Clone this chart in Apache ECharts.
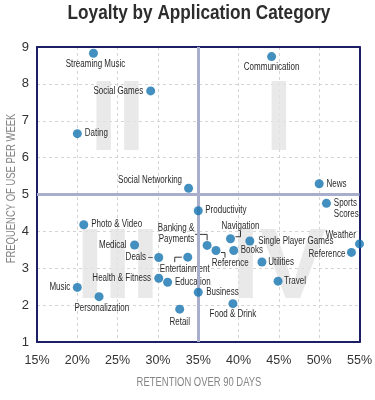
<!DOCTYPE html>
<html>
<head>
<meta charset="utf-8">
<script src="https://cdn.jsdelivr.net/npm/echarts@6/dist/echarts.min.js"></script>
<style>
html,body{margin:0;padding:0;background:#fff;}
#chart{width:375px;height:400px;}
</style>
</head>
<body>
<div id="chart"></div>
<script>
// ---- data ----
const categories = [
  'Streaming Music','Social Games','Dating','Social Networking','Communication',
  'News','Sports\nScores','Productivity','Photo & Video','Weather',
  'Reference','Navigation','Single Player Games','Banking &\nPayments','Medical',
  'Books','Reference','Deals –','Entertainment','Utilities',
  'Health & Fitness','Education','Travel','Music','Business',
  'Personalization','Food & Drink','Retail'
];
const retention = [
  22.0, 29.1, 20.0, 33.8, 44.1,
  50.0, 50.9, 35.0, 20.8, 55.0,
  54.0, 39.0, 41.4, 36.1, 27.1,
  39.4, 37.2, 30.1, 33.7, 42.9,
  30.1, 31.2, 44.9, 20.0, 35.0,
  22.7, 39.3, 32.7
];
const frequency = [
  8.83, 7.81, 6.65, 5.17, 8.74,
  5.29, 4.76, 4.56, 4.18, 3.66,
  3.43, 3.80, 3.74, 3.62, 3.63,
  3.48, 3.48, 3.29, 3.30, 3.17,
  2.73, 2.62, 2.65, 2.48, 2.35,
  2.23, 2.04, 1.89
];
const xTicks = [15, 20, 25, 30, 35, 40, 45, 50, 55];
const yTicks = [1, 2, 3, 4, 5, 6, 7, 8, 9];
const quadrantNames = ['I', 'II', 'III', 'IV'];
const quadrantX = [45, 25, 25, 45];
const quadrantY = [7, 7, 3, 3];
const splitRetention = 35;
const splitFrequency = 5;
const titleText = 'Loyalty by Application Category';
const xName = 'RETENTION OVER 90 DAYS';
const yName = 'FREQUENCY OF USE PER WEEK';

// ---- label placement (style only): [dx, dy, align] in pixels from the point ----
const labelStyle = [
  [2, 11, 'center'], [-7.5, 0, 'right'], [7.5, 0, 'left'], [-6.5, -8.3, 'right'], [0, 11, 'center'],
  [7.3, 0, 'left'], [7.4, 5.5, 'left'], [7, 0, 'left'], [7.4, 0, 'left'], [-3.7, -9, 'right'],
  [-6, 2.3, 'right'], [10, -13, 'center'], [8.4, 0, 'left'], [-12.8, -11.2, 'right'], [-8, 0, 'right'],
  [7, 0, 'left'], [14.3, 12.3, 'center'], [-6, 0, 'right'], [-3, 11.7, 'center'], [6.3, 0, 'left'],
  [-7.7, 0, 'right'], [7.4, 0, 'left'], [6, 0, 'left'], [-7, 0, 'right'], [8, 0, 'left'],
  [2.7, 11.3, 'center'], [0, 11, 'center'], [0, 12.7, 'center']
];
// leader lines (pixel offsets from point), by category index
const leaders = {
  13: [[-12,-11],[0,-11],[0,-5]],
  11: [[10,-8],[10,-2],[5,-2]],
  16: [[5,2],[9,2],[9,7]],
  18: [[-6,0],[-13,0],[-13,5]]
};

const SANS = '"Liberation Sans", Arial, sans-serif';
const DOT = '#1474b0';
const LABEL_SCALE = 0.8;

const pointData = categories.map((c, i) => ({name: c, value: [retention[i], frequency[i]]}));
const leaderData = Object.keys(leaders).map(k => ({value:[retention[+k], frequency[+k]], idx:+k}));

const chart = echarts.init(document.getElementById('chart'), null, {renderer:'canvas'});
chart.setOption({
  animation:false,
  backgroundColor:'#fff',
  graphic:[
    {type:'text', x:199, y:3, scaleX:0.86, z:10,
      style:{text:titleText, fontFamily:SANS, fontSize:20, fontWeight:'bold', fill:'#2d2d2d', align:'center', verticalAlign:'top'}},
    {type:'text', x:199, y:382, scaleX:0.7, z:10,
      style:{text:xName, fontFamily:SANS, fontSize:13.5, fill:'#858585', align:'center', verticalAlign:'middle'}},
    {type:'text', x:11, y:188.5, rotation:Math.PI/2, scaleX:0.7, z:10,
      style:{text:yName, fontFamily:SANS, fontSize:13.5, fill:'#858585', align:'center', verticalAlign:'middle'}}
  ],
  grid:{left:37, right:13, top:47, bottom:58, show:false},
  xAxis:[{
    type:'value', min:xTicks[0], max:xTicks[xTicks.length-1], interval:5,
    axisLine:{show:true, onZero:false, lineStyle:{color:'#1c1f66', width:2}}, axisTick:{show:false},
    axisLabel:{margin:12, fontFamily:SANS, fontSize:12.5, color:'#333', formatter:v => v + '%'},
    splitLine:{show:true, showMinLine:false, showMaxLine:false, lineStyle:{color:'#d4d4d4', type:[3,3], width:1}}
  },{
    type:'value', position:'top', min:xTicks[0], max:xTicks[xTicks.length-1], interval:5,
    axisLine:{show:true, onZero:false, lineStyle:{color:'#1c1f66', width:2}}, axisTick:{show:false},
    axisLabel:{show:false}, splitLine:{show:false}
  }],
  yAxis:[{
    type:'value', min:yTicks[0], max:yTicks[yTicks.length-1], interval:1,
    axisLine:{show:true, onZero:false, lineStyle:{color:'#1c1f66', width:2}}, axisTick:{show:false},
    axisLabel:{margin:8, fontFamily:SANS, fontSize:13, color:'#333'},
    splitLine:{show:true, showMinLine:false, showMaxLine:false, lineStyle:{color:'#d4d4d4', type:[3,3], width:1}}
  },{
    type:'value', position:'right', min:yTicks[0], max:yTicks[yTicks.length-1], interval:1,
    axisLine:{show:true, onZero:false, lineStyle:{color:'#1c1f66', width:2}}, axisTick:{show:false},
    axisLabel:{show:false}, splitLine:{show:false}
  }],
  series:[
    {
      type:'scatter', silent:true, z:1,
      symbolSize:1, itemStyle:{color:'rgba(0,0,0,0)'},
      data: quadrantNames.map((q, i) => ({name:q, value:[quadrantX[i], quadrantY[i]]})),
      label:{show:true, position:'inside', formatter:'{b}', fontFamily:SANS,
        fontWeight:'bold', fontSize:100, color:'#e4e4e4', offset:[0,2]}
    },
    {
      type:'scatter', silent:true, z:2, symbolSize:0,
      data:[],
      markLine:{
        silent:true, symbol:'none', label:{show:false},
        lineStyle:{color:'#a8aecb', width:3, type:'solid'},
        data:[{xAxis:splitRetention}, {yAxis:splitFrequency}]
      }
    },
    {
      type:'custom', silent:true, z:3, clip:false,
      data: leaderData,
      renderItem:(params, api) => {
        const p = api.coord([api.value(0), api.value(1)]);
        const off = leaders[leaderData[params.dataIndex].idx];
        return {type:'polyline', shape:{points: off.map(o => [p[0]+o[0], p[1]+o[1]])},
          style:{stroke:'#333', lineWidth:1, fill:null}};
      }
    },
    {
      type:'custom', silent:true, z:4, clip:false,
      data: pointData,
      renderItem:(params, api) => {
        const i = params.dataIndex;
        const p = api.coord([api.value(0), api.value(1)]);
        const s = labelStyle[i];
        return {type:'text', x:p[0]+s[0], y:p[1]+s[1], scaleX:LABEL_SCALE,
          style:{text:categories[i], fontFamily:SANS, fontSize:10, lineHeight:11, fill:'#2a2a2a',
            align:s[2], verticalAlign:'middle'}};
      }
    },
    {
      type:'scatter', z:5, clip:false, silent:true,
      symbol:'circle', symbolSize:9,
      itemStyle:{color:DOT},
      data: pointData
    }
  ]
});
</script>
</body>
</html>
